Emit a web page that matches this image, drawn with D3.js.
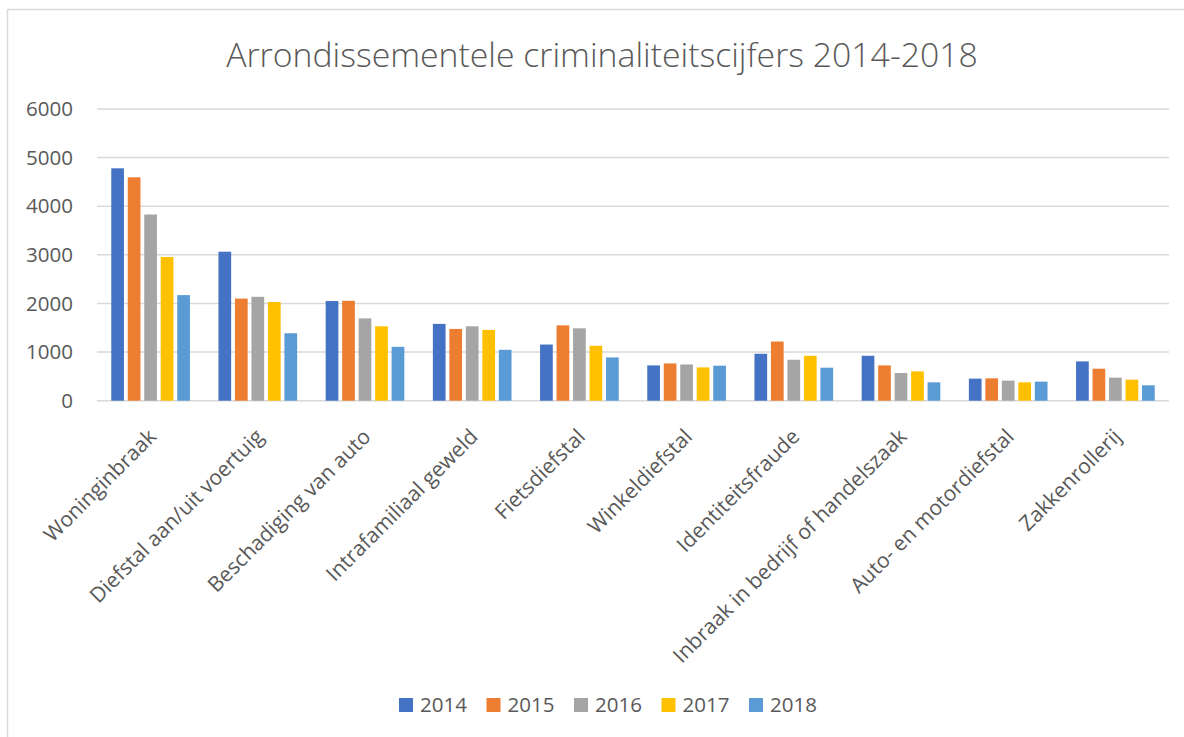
<!DOCTYPE html>
<html>
<head>
<meta charset="utf-8">
<script src="https://cdn.jsdelivr.net/npm/d3@7"></script>
<style>
body { margin: 0; background: #fff; }
svg text { font-family: "Open Sans", "Noto Sans", sans-serif; fill: #595959; }
</style>
</head>
<body>
<svg class="main" width="1184" height="737"></svg>
<script>
var categories = ["Woninginbraak", "Diefstal aan/uit voertuig", "Beschadiging van auto",
    "Intrafamiliaal geweld", "Fietsdiefstal", "Winkeldiefstal", "Identiteitsfraude",
    "Inbraak in bedrijf of handelszaak", "Auto- en motordiefstal", "Zakkenrollerij"];
var years = ["2014", "2015", "2016", "2017", "2018"];
var colors = ["#4472C4", "#ED7D31", "#A5A5A5", "#FFC000", "#5B9BD5"];

var v2014 = [4780, 3065, 2050, 1580, 1155, 726, 965, 924, 454, 808];
var v2015 = [4595, 2100, 2055, 1476, 1550, 767, 1217, 726, 460, 658];
var v2016 = [3830, 2137, 1693, 1530, 1489, 746, 842, 569, 413, 474];
var v2017 = [2955, 2030, 1530, 1456, 1129, 685, 924, 603, 378, 433];
var v2018 = [2172, 1387, 1108, 1047, 890, 720, 679, 378, 392, 317];
var series = [v2014, v2015, v2016, v2017, v2018];

var yTicks = [0, 1000, 2000, 3000, 4000, 5000, 6000];
var title = "Arrondissementele criminaliteitscijfers 2014-2018";

var svg = d3.select("svg.main");

// chart frame
svg.append("rect")
    .attr("x", 7.5).attr("y", 9.5)
    .attr("width", 1200).attr("height", 800)
    .attr("fill", "none")
    .attr("stroke", "#d9d9d9")
    .attr("stroke-width", 1.5);

// scale font so the text gets the wanted width
function fit(sel, target) {
    var s = parseFloat(sel.attr("font-size"));
    var w = sel.node().getComputedTextLength();
    sel.attr("font-size", s * target / w);
    return s * target / w;
}

var x = d3.scaleBand().domain(categories).range([97, 1169]);
var xi = d3.scaleBand().domain(years).range([0, x.bandwidth()])
    .paddingInner(0.23).paddingOuter(0.865);
var y = d3.scaleLinear().domain([0, 6000]).range([400.7, 109]);

// gridlines
svg.append("g").selectAll("line").data(yTicks).enter().append("line")
    .attr("x1", 97).attr("x2", 1169)
    .attr("y1", function (d) { return y(d); })
    .attr("y2", function (d) { return y(d); })
    .attr("stroke", "#d9d9d9")
    .attr("stroke-width", 1.5);

// y tick labels
var tl = svg.append("g").selectAll("text").data(yTicks).enter().append("text")
    .attr("x", 73)
    .attr("y", function (d) { return y(d); })
    .attr("dy", "0.35em")
    .attr("text-anchor", "end")
    .attr("font-size", 20)
    .text(function (d) { return d; });
var tickSize = fit(d3.select(tl.nodes()[6]), 47);
tl.attr("font-size", tickSize);

// bars
series.forEach(function (vals, si) {
    svg.append("g").selectAll("rect").data(vals).enter().append("rect")
        .attr("x", function (d, i) { return x(categories[i]) + xi(years[si]); })
        .attr("width", xi.bandwidth())
        .attr("y", function (d) { return y(d); })
        .attr("height", function (d) { return y(0) - y(d); })
        .attr("fill", colors[si]);
});

// category labels
var cl = svg.append("g").selectAll("text").data(categories).enter().append("text")
    .attr("text-anchor", "end")
    .attr("font-size", 20)
    .attr("transform", function (d) {
        return "translate(" + (x(d) + x.bandwidth() / 2 + 7) + ",438) rotate(-45)";
    })
    .text(function (d) { return d; });
var catSize = fit(d3.select(cl.nodes()[7]), 320);
cl.attr("font-size", catSize);

// title
var tt = svg.append("text")
    .attr("x", 602).attr("y", 67)
    .attr("text-anchor", "middle")
    .attr("font-size", 32)
    .attr("font-weight", 300)
    .text(title);
fit(tt, 752);

// legend
var lg = svg.append("g").selectAll("g").data(years).enter().append("g")
    .attr("transform", function (d, i) { return "translate(" + (399 + i * 87.5) + ",698)"; });
lg.append("rect")
    .attr("width", 14).attr("height", 14)
    .attr("fill", function (d, i) { return colors[i]; });
lg.append("text")
    .attr("x", 21).attr("y", 7)
    .attr("dy", "0.35em")
    .attr("font-size", tickSize)
    .text(function (d) { return d; });
</script>
</body>
</html>
